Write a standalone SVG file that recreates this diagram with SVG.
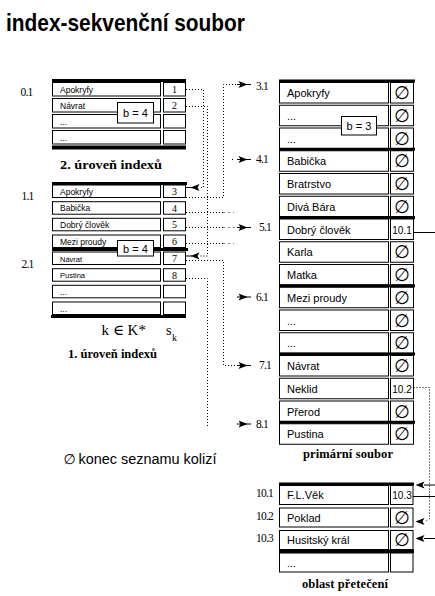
<svg xmlns="http://www.w3.org/2000/svg" width="435" height="596" viewBox="0 0 435 596">
<style>
.bg{fill:#fff}
.cell{fill:#fff;stroke:#000;stroke-width:1}
.bar{fill:#000}
.t{font-family:"Liberation Sans",Arial,sans-serif;fill:#000}
.s{font-family:"Liberation Serif","DejaVu Serif",serif;fill:#000}
.small{font-size:8.5px}
.key{font-size:11px}
.num{font-size:10px}
.lbl{font-family:"Liberation Serif","DejaVu Serif",serif;font-size:11.5px;letter-spacing:-0.8px;fill:#000}
.cap{font-weight:bold;font-size:12.5px}
.empty{font-family:"DejaVu Sans",sans-serif;font-size:18px;fill:#000}
.dot{fill:none;stroke:#000;stroke-width:1;stroke-dasharray:1 2}
.dots{fill:none;stroke:#000;stroke-width:1;stroke-dasharray:1 4}
.ln{fill:none;stroke:#000;stroke-width:1}
</style>
<defs>
<path id="ah" d="M1,0 L-8,-3.5 L-6,0 L-8,3.5 Z" fill="#000"/>
</defs>
<rect class="bg" x="0" y="0" width="435" height="596"/>

<g id="title">
<text class="t" x="6" y="31" font-size="24" font-weight="bold" textLength="239" lengthAdjust="spacingAndGlyphs">index-sekvenční soubor</text>
</g>

<g id="level2">
<rect class="bar" x="52" y="79" width="134" height="3"/>
<rect class="cell" x="52.5" y="82.5" width="108" height="13.5"/><rect class="cell" x="163.5" y="82.5" width="22" height="13.5"/>
<rect class="cell" x="52.5" y="98.5" width="108" height="13.5"/><rect class="cell" x="163.5" y="98.5" width="22" height="13.5"/>
<rect class="cell" x="52.5" y="114.5" width="108" height="13.5"/><rect class="cell" x="163.5" y="114.5" width="22" height="13.5"/>
<rect class="cell" x="52.5" y="130.5" width="108" height="13.5"/><rect class="cell" x="163.5" y="130.5" width="22" height="13.5"/>
<rect class="bar" x="52" y="145.5" width="134" height="4"/>
<text class="t small" x="60" y="92.5">Apokryfy</text>
<text class="t small" x="60" y="108.5">Návrat</text>
<text class="t small" x="60" y="124.5">...</text>
<text class="t small" x="60" y="140.5">...</text>
<text class="s num" x="174.5" y="92.5" text-anchor="middle">1</text>
<text class="s num" x="174.5" y="108.5" text-anchor="middle">2</text>
<rect class="cell" x="117.5" y="102.5" width="36" height="20.5"/>
<text class="t" x="135.5" y="116.5" font-size="11" text-anchor="middle">b = 4</text>
<text class="lbl" x="20.5" y="96">0.1</text>
<text class="s cap" x="60" y="169" textLength="102" lengthAdjust="spacingAndGlyphs">2. úroveň indexů</text>
</g>

<g id="level1">
<rect class="bar" x="52" y="182" width="135" height="3"/>
<rect class="cell" x="52.5" y="185" width="108" height="12.5"/><rect class="cell" x="163.5" y="185" width="22" height="12.5"/>
<rect class="cell" x="52.5" y="201.7" width="108" height="12.5"/><rect class="cell" x="163.5" y="201.7" width="22" height="12.5"/>
<rect class="cell" x="52.5" y="218.3" width="108" height="12.5"/><rect class="cell" x="163.5" y="218.3" width="22" height="12.5"/>
<rect class="cell" x="52.5" y="235" width="108" height="12.5"/><rect class="cell" x="163.5" y="235" width="22" height="12.5"/>
<rect class="bar" x="52" y="248" width="136" height="3"/>
<rect class="cell" x="52.5" y="252" width="108" height="12.5"/><rect class="cell" x="163.5" y="252" width="22" height="12.5"/>
<rect class="cell" x="52.5" y="268.7" width="108" height="12.5"/><rect class="cell" x="163.5" y="268.7" width="22" height="12.5"/>
<rect class="cell" x="52.5" y="285.3" width="108" height="12.5"/><rect class="cell" x="163.5" y="285.3" width="22" height="12.5"/>
<rect class="cell" x="52.5" y="302" width="108" height="12.5"/><rect class="cell" x="163.5" y="302" width="22" height="12.5"/>
<rect class="bar" x="51" y="315" width="135" height="3"/>
<text class="t small" x="60" y="194.5">Apokryfy</text>
<text class="t small" x="60" y="211.2">Babička</text>
<text class="t small" x="60" y="227.8">Dobrý člověk</text>
<text class="t small" x="60" y="244.5">Mezi proudy</text>
<text class="t" x="60" y="261.5" font-size="7.5">Návrat</text>
<text class="t" x="60" y="278.2" font-size="7.5">Pustina</text>
<text class="t small" x="60" y="294.8">...</text>
<text class="t small" x="60" y="311.5">...</text>
<text class="s num" x="174.5" y="195" text-anchor="middle">3</text>
<text class="s num" x="174.5" y="211.7" text-anchor="middle">4</text>
<text class="s num" x="174.5" y="228.3" text-anchor="middle">5</text>
<text class="s num" x="174.5" y="245" text-anchor="middle">6</text>
<text class="s num" x="174.5" y="262" text-anchor="middle">7</text>
<text class="s num" x="174.5" y="278.7" text-anchor="middle">8</text>
<rect class="cell" x="117.5" y="240.5" width="36" height="15.5"/>
<text class="t" x="135.5" y="252.5" font-size="11" text-anchor="middle">b = 4</text>
<text class="lbl" x="21.5" y="200">1.1</text>
<text class="lbl" x="21.5" y="268">2.1</text>
<text class="s" x="101.5" y="335" font-size="15">k ∈ K*</text>
<text class="s" x="166" y="335" font-size="14">s</text>
<text class="s" x="172" y="341" font-size="10">k</text>
<text class="s cap" x="68" y="357.5" textLength="89" lengthAdjust="spacingAndGlyphs">1. úroveň indexů</text>
</g>

<g id="primary">
<rect class="bar" x="279" y="79.5" width="136" height="3"/>
<rect class="cell" x="279.5" y="82.5" width="109" height="20.5"/><rect class="cell" x="390.5" y="82.5" width="23" height="20.5"/>
<rect class="cell" x="279.5" y="105.25" width="109" height="20.5"/><rect class="cell" x="390.5" y="105.25" width="23" height="20.5"/>
<rect class="cell" x="279.5" y="128" width="109" height="20.5"/><rect class="cell" x="390.5" y="128" width="23" height="20.5"/>
<rect class="cell" x="279.5" y="150.75" width="109" height="20.5"/><rect class="cell" x="390.5" y="150.75" width="23" height="20.5"/>
<rect class="cell" x="279.5" y="173.5" width="109" height="20.5"/><rect class="cell" x="390.5" y="173.5" width="23" height="20.5"/>
<rect class="cell" x="279.5" y="196.25" width="109" height="20.5"/><rect class="cell" x="390.5" y="196.25" width="23" height="20.5"/>
<rect class="cell" x="279.5" y="219" width="109" height="20.5"/><rect class="cell" x="390.5" y="219" width="23" height="20.5"/>
<rect class="cell" x="279.5" y="241.75" width="109" height="20.5"/><rect class="cell" x="390.5" y="241.75" width="23" height="20.5"/>
<rect class="cell" x="279.5" y="264.5" width="109" height="20.5"/><rect class="cell" x="390.5" y="264.5" width="23" height="20.5"/>
<rect class="cell" x="279.5" y="287.25" width="109" height="20.5"/><rect class="cell" x="390.5" y="287.25" width="23" height="20.5"/>
<rect class="cell" x="279.5" y="310" width="109" height="20.5"/><rect class="cell" x="390.5" y="310" width="23" height="20.5"/>
<rect class="cell" x="279.5" y="332.75" width="109" height="20.5"/><rect class="cell" x="390.5" y="332.75" width="23" height="20.5"/>
<rect class="cell" x="279.5" y="355.5" width="109" height="20.5"/><rect class="cell" x="390.5" y="355.5" width="23" height="20.5"/>
<rect class="cell" x="279.5" y="378.25" width="109" height="20.5"/><rect class="cell" x="390.5" y="378.25" width="23" height="20.5"/>
<rect class="cell" x="279.5" y="401" width="109" height="20.5"/><rect class="cell" x="390.5" y="401" width="23" height="20.5"/>
<rect class="cell" x="279.5" y="423.75" width="109" height="20.5"/><rect class="cell" x="390.5" y="423.75" width="23" height="20.5"/>
<rect class="bar" x="279" y="147.75" width="136" height="3"/>
<rect class="bar" x="279" y="216" width="136" height="3"/>
<rect class="bar" x="279" y="284.25" width="136" height="3"/>
<rect class="bar" x="279" y="352.5" width="136" height="3"/>
<rect class="bar" x="279" y="420.75" width="136" height="3"/>
<text class="t key" x="287" y="97">Apokryfy</text>
<text class="t key" x="287" y="119.75">...</text>
<text class="t key" x="287" y="142.5">...</text>
<text class="t key" x="287" y="165.25">Babička</text>
<text class="t key" x="287" y="188">Bratrstvo</text>
<text class="t key" x="287" y="210.75">Divá Bára</text>
<text class="t key" x="287" y="233.5">Dobrý člověk</text>
<text class="t key" x="287" y="256.25">Karla</text>
<text class="t key" x="287" y="279">Matka</text>
<text class="t key" x="287" y="301.75">Mezi proudy</text>
<text class="t key" x="287" y="324.5">...</text>
<text class="t key" x="287" y="347.25">...</text>
<text class="t key" x="287" y="370">Návrat</text>
<text class="t key" x="287" y="392.75">Neklid</text>
<text class="t key" x="287" y="415.5">Přerod</text>
<text class="t key" x="287" y="438.25">Pustina</text>
<text class="empty" x="402" y="99" text-anchor="middle">∅</text>
<text class="empty" x="402" y="121.75" text-anchor="middle">∅</text>
<text class="empty" x="402" y="144.5" text-anchor="middle">∅</text>
<text class="empty" x="402" y="167.25" text-anchor="middle">∅</text>
<text class="empty" x="402" y="190" text-anchor="middle">∅</text>
<text class="empty" x="402" y="212.75" text-anchor="middle">∅</text>
<text class="t" x="402" y="233.5" font-size="10" text-anchor="middle">10.1</text>
<text class="empty" x="402" y="258.25" text-anchor="middle">∅</text>
<text class="empty" x="402" y="281" text-anchor="middle">∅</text>
<text class="empty" x="402" y="303.75" text-anchor="middle">∅</text>
<text class="empty" x="402" y="326.5" text-anchor="middle">∅</text>
<text class="empty" x="402" y="349.25" text-anchor="middle">∅</text>
<text class="empty" x="402" y="372" text-anchor="middle">∅</text>
<text class="t" x="402" y="392.75" font-size="10" text-anchor="middle">10.2</text>
<text class="empty" x="402" y="417.5" text-anchor="middle">∅</text>
<text class="empty" x="402" y="440.25" text-anchor="middle">∅</text>
<rect class="cell" x="341.5" y="116.5" width="35" height="18.5"/>
<text class="t" x="359" y="130" font-size="11" text-anchor="middle">b = 3</text>
<text class="lbl" x="256" y="90">3.1</text>
<text class="lbl" x="256" y="163">4.1</text>
<text class="lbl" x="259" y="230.5">5.1</text>
<text class="lbl" x="256" y="301">6.1</text>
<text class="lbl" x="259" y="369">7.1</text>
<text class="lbl" x="256" y="428">8.1</text>
<text class="s cap" x="303" y="458" textLength="90" lengthAdjust="spacing">primární soubor</text>
</g>

<g id="overflow">
<rect class="bar" x="279" y="482.5" width="135" height="3"/>
<rect class="cell" x="279.5" y="485.5" width="109" height="19"/><rect class="cell" x="390.5" y="485.5" width="22.5" height="19"/>
<rect class="cell" x="279.5" y="508" width="109" height="19"/><rect class="cell" x="390.5" y="508" width="22.5" height="19"/>
<rect class="cell" x="279.5" y="530.5" width="109" height="19"/><rect class="cell" x="390.5" y="530.5" width="22.5" height="19"/>
<rect class="bar" x="279" y="549.5" width="135" height="3.5"/>
<rect class="cell" x="279.5" y="553" width="109" height="19"/><rect class="cell" x="390.5" y="553" width="22.5" height="19"/>
<text class="t key" x="287" y="499">F.L.Věk</text>
<text class="t key" x="287" y="521.5">Poklad</text>
<text class="t key" x="287" y="544">Husitský král</text>
<text class="t key" x="287" y="566.5">...</text>
<text class="t" x="402" y="499" font-size="10" text-anchor="middle">10.3</text>
<text class="empty" x="402" y="523.5" text-anchor="middle">∅</text>
<text class="empty" x="402" y="546" text-anchor="middle">∅</text>
<text class="lbl" x="256" y="497">10.1</text>
<text class="lbl" x="256" y="519.5">10.2</text>
<text class="lbl" x="256" y="542">10.3</text>
<text class="s cap" x="302" y="588" textLength="86" lengthAdjust="spacing">oblast přetečení</text>
</g>

<g id="legend">
<text x="69.5" y="464" font-family="DejaVu Sans,sans-serif" font-size="14" text-anchor="middle">∅</text>
<text class="t" x="78.5" y="463.5" font-size="14" textLength="138" lengthAdjust="spacingAndGlyphs">konec seznamu kolizí</text>
</g>

<g id="connectors">
<path class="dot" d="M186,89.5 H203.5 V187.5 H200"/>
<path class="dot" d="M186,106.5 H207.5 V256 H200"/>
<path class="dot" d="M186,197.5 H223.5 V84.5 H237"/>
<path class="dot" d="M186,212.5 H223.5"/><path class="dots" d="M223.5,212.5 H234"/>
<path class="dots" d="M232,159.5 H237"/>
<path class="dot" d="M186,227.5 H223.5"/><path class="dots" d="M223.5,227.5 H237"/>
<path class="dot" d="M186,243.5 H223.5"/><path class="dots" d="M223.5,243.5 H234"/>
<path class="dot" d="M186,260.5 H223.5 V365.5 H237"/>
<path class="dot" d="M186,278.5 H207.5 V428"/>
<path class="dot" d="M413.5,387.5 H429.5 V519 L425,521.5"/>
<path class="ln" d="M413.5,232.5 H435"/>
<path class="ln" d="M413,496.5 H435"/>
<path class="ln" d="M424,485 H435"/>
<path class="ln" d="M424,538.5 H435"/>
<path class="ln" d="M186,187.5 H192"/>
<path class="ln" d="M186,256 H192"/>
<path class="ln" d="M237,84.5 H251"/>
<path class="ln" d="M237,159.5 H251"/>
<path class="ln" d="M237,227.5 H251"/>
<path class="ln" d="M237,297 H251"/>
<path class="ln" d="M237,365.5 H251"/>
<path class="ln" d="M237,424 H251"/>
<use href="#ah" transform="translate(246.5,84.5)"/>
<use href="#ah" transform="translate(246.5,159.5)"/>
<use href="#ah" transform="translate(246.5,227.5)"/>
<use href="#ah" transform="translate(246.5,297)"/>
<use href="#ah" transform="translate(246.5,365.5)"/>
<use href="#ah" transform="translate(246.5,424)"/>
<use href="#ah" transform="translate(191.5,187.5) scale(-1,1)"/>
<use href="#ah" transform="translate(191.5,256) scale(-1,1)"/>
<use href="#ah" transform="translate(416.5,485) scale(-1,1)"/>
<use href="#ah" transform="translate(416.5,521.5) scale(-1,1)"/>
<use href="#ah" transform="translate(416.5,538.5) scale(-1,1)"/>
</g>
</svg>
